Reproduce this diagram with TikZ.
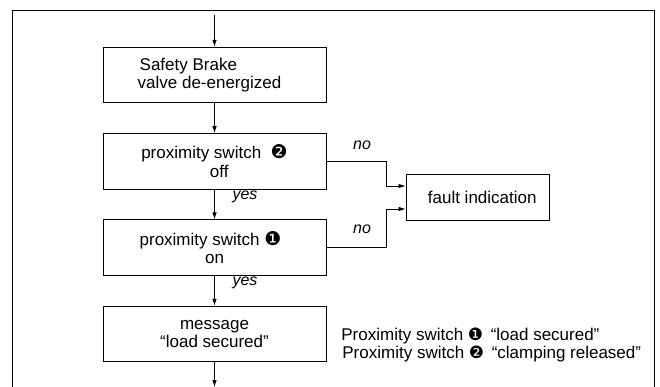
\documentclass[tikz,border=0pt]{standalone}
\usepackage{fontspec}
\setmainfont{Liberation Sans}
\newfontfamily\dingfont{DejaVu Sans}
\newcommand{\ding}[1]{{\dingfont\fontsize{19}{18}\selectfont #1}}
\usetikzlibrary{positioning,arrows.meta}

\begin{document}
\begin{tikzpicture}[x=1pt, y=-1pt, node distance=30pt, line width=0.8pt, font=\fontsize{17}{18.5}\selectfont, main/.style = {draw, minimum width=223pt, minimum height=55.5pt, align=center, inner sep=0pt}, lab/.style = {font=\fontsize{16}{18}\selectfont\itshape}, >={Latex[length=7pt,width=4.5pt]}]
\useasboundingbox (0,0) rectangle (660,387);
\draw (12,387) -- (12,10) -- (654,10) -- (654,387);
\coordinate (0) at (214.5,15);
\node[main, align=left] (1) at (214.5,75) {\hspace*{2pt}Safety Brake\\valve de-energized\hspace*{10pt}};
\node[main] (2) [below=of 1] {proximity switch\ \ \ding{❷}\\\ \ off};
\node[main] (3) [below=of 2] {proximity switch \ding{❶}\hspace*{8pt}\\on};
\node[main] (4) [below=of 3] {message\\“load secured”};
\node[draw, minimum width=143pt, minimum height=46pt] (5) at (477.5,197) {\ \ fault indication};
\coordinate (9) at (214.5,387);
\draw[->] (0) -- (1);
\draw[->] (1) -- (2);
\draw[->] (2) -- (3);
\draw[->] (3) -- (4);
\draw[->] (4) -- (9);
\draw[->] (2.east) -- ++(60,0) |- ([yshift=11pt]5.west);
\draw[->] (3.east) -- ++(60,0) |- ([yshift=-12pt]5.west);
\node[lab] (n1) at (362,145) {no};
\node[lab] (n2) at (362,229) {no};
\node[lab] (y1) at (245,197) {yes};
\node[lab] (y2) at (245,283) {yes};
\node[anchor=base west, inner sep=0pt] (6) at (341,340) {Proximity switch {\dingfont ❶}\ \,“load secured”};
\node[anchor=base west, inner sep=0pt] (7) at (342,358) {Proximity switch {\dingfont ❷}\ \,“clamping released”};
\end{tikzpicture}
\end{document}
